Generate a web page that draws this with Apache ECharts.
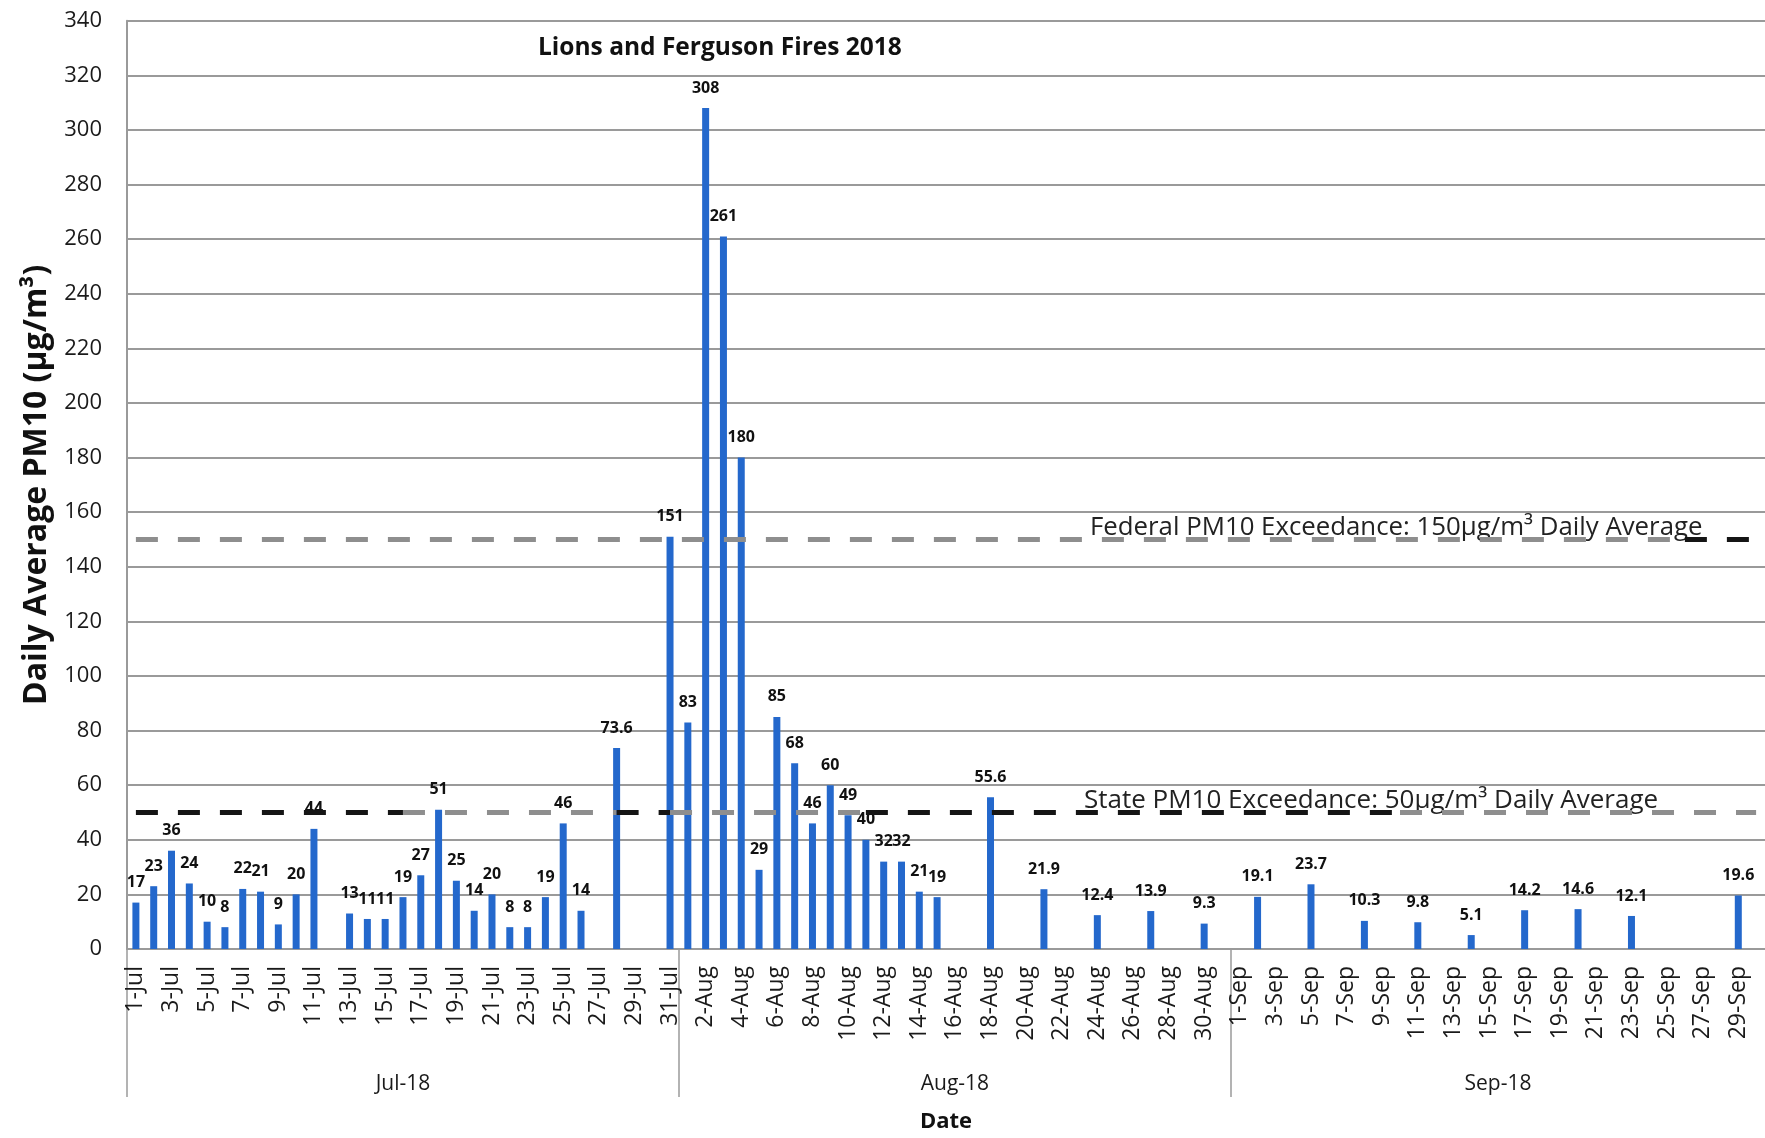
<!DOCTYPE html>
<html>
<head>
<meta charset="utf-8">
<title>Lions and Ferguson Fires 2018 - Daily Average PM10</title>
<script src="https://cdn.jsdelivr.net/npm/echarts@6/dist/echarts.min.js"></script>
<style>
  html, body { margin: 0; padding: 0; background: #ffffff; }
  #chart { width: 1765px; height: 1138px; }
</style>
</head>
<body>
<div id="chart"></div>
<script>
// Months covered and their day counts (2018)
const monthNames = ['Jul', 'Aug', 'Sep'];
const monthDays = [31, 31, 30];
const monthGroupLabels = ['Jul-18', 'Aug-18', 'Sep-18'];

// Daily average PM10 (µg/m³); null = no sample that day
const julPM10 = [17, 23, 36, 24, 10, 8, 22, 21, 9, 20, 44, null, 13, 11, 11, 19, 27, 51, 25, 14, 20, 8, 8, 19, 46, 14, null, 73.6, null, null, 151];
const augPM10 = [83, 308, 261, 180, 29, 85, 68, 46, 60, 49, 40, 32, 32, 21, 19, null, null, 55.6, null, null, 21.9, null, null, 12.4, null, null, 13.9, null, null, 9.3, null];
const sepPM10 = [null, 19.1, null, null, 23.7, null, null, 10.3, null, null, 9.8, null, null, 5.1, null, null, 14.2, null, null, 14.6, null, null, 12.1, null, null, null, null, null, 19.6, null];

// Exceedance thresholds
const FEDERAL_LIMIT = 150;
const STATE_LIMIT = 50;

// Y axis ticks
const yMin = 0, yMax = 340, yStep = 20;

// Colour runs of the dashed threshold lines (start day, end day, colour)
const GREY = '#8e8e8e', BLACK = '#151515';
const stateRuns = [
  ['1-Jul', '16-Jul', BLACK],
  ['16-Jul', '28-Jul', GREY],
  ['28-Jul', '31-Jul', BLACK],
  ['31-Jul', '11-Aug', GREY],
  ['11-Aug', '10-Sep', BLACK],
  ['10-Sep', '30-Sep', GREY]
];
const federalRuns = [
  ['1-Jul', '26-Sep', GREY],
  ['26-Sep', '30-Sep', BLACK]
];

// Category labels such as "1-Jul"
const categories = [];
monthNames.forEach((m, i) => {
  for (let d = 1; d <= monthDays[i]; d++) categories.push(d + '-' + m);
});
const pm10 = julPM10.concat(augPM10, sepPM10);

// Month boundaries and centres on a 0..N day scale for the group axis
const monthEdges = [0];
monthDays.forEach((n, i) => monthEdges.push(monthEdges[i] + n));
const monthCentres = monthDays.map((n, i) => monthEdges[i] + n / 2);

const FONT = '"Open Sans", Lato, sans-serif';

function runsToLines(runs, level) {
  return runs.map(r => [
    { coord: [r[0], level], lineStyle: { color: r[2] } },
    { coord: [r[1], level] }
  ]);
}

const chart = echarts.init(document.getElementById('chart'), null, { renderer: 'canvas' });

chart.setOption({
  backgroundColor: '#ffffff',
  animation: false,
  textStyle: { fontFamily: FONT },
  grid: { left: 127, top: 20.7, width: 1643, height: 935.6, containLabel: false },
  xAxis: [
    {
      type: 'category',
      data: categories,
      boundaryGap: true,
      name: 'Date',
      nameLocation: 'middle',
      nameGap: 162,
      nameTextStyle: { fontFamily: FONT, fontSize: 22, fontWeight: 'bold', color: '#111' },
      axisLine: { show: true, lineStyle: { color: '#9a9a9a', width: 2 } },
      axisTick: { show: false },
      axisLabel: {
        interval: 1,
        rotate: 90,
        margin: 17,
        fontFamily: FONT,
        fontSize: 23,
        color: '#1a1a1a'
      },
      splitLine: { show: false }
    },
    {
      // Month grouping row under the day labels
      type: 'value',
      position: 'bottom',
      min: monthEdges[0],
      max: monthEdges[monthEdges.length - 1],
      axisLine: { show: false },
      splitLine: { show: false },
      axisTick: {
        show: true,
        inside: false,
        length: 148,
        customValues: monthEdges.slice(0, monthEdges.length - 1),
        lineStyle: { color: '#9a9a9a', width: 1.5 }
      },
      axisLabel: {
        show: true,
        margin: 125,
        customValues: monthCentres,
        formatter: v => {
          const i = monthCentres.indexOf(v);
          return i >= 0 ? monthGroupLabels[i] : '';
        },
        fontFamily: FONT,
        fontSize: 21,
        color: '#1a1a1a'
      }
    }
  ],
  yAxis: {
    type: 'value',
    min: yMin,
    max: yMax,
    interval: yStep,
    name: 'Daily Average PM10 (µg/m³)',
    nameLocation: 'middle',
    nameGap: 74,
    nameTextStyle: { fontFamily: FONT, fontSize: 32, fontWeight: 'bold', color: '#111' },
    axisLine: { show: true, lineStyle: { color: '#9a9a9a', width: 2 } },
    axisTick: { show: false },
    axisLabel: { margin: 25, fontFamily: FONT, fontSize: 22, color: '#1a1a1a' },
    splitLine: { show: true, lineStyle: { color: '#9a9a9a', width: 2 } }
  },
  series: [
    {
      name: 'PM10',
      type: 'bar',
      data: pm10,
      barWidth: 7,
      itemStyle: { color: '#2468cc' },
      label: {
        show: true,
        position: 'top',
        distance: 12,
        fontFamily: FONT,
        fontSize: 16,
        fontWeight: 'bold',
        color: '#111',
        formatter: p => (p.value == null ? '' : String(p.value))
      },
      z: 2
    },
    {
      name: 'Thresholds',
      type: 'line',
      data: [],
      z: 5,
      markLine: {
        silent: true,
        symbol: ['none', 'none'],
        label: { show: false },
        lineStyle: { type: [22, 20], width: 5, color: GREY },
        emphasis: { disabled: true },
        data: runsToLines(federalRuns, FEDERAL_LIMIT).concat(runsToLines(stateRuns, STATE_LIMIT))
      }
    }
  ],
  graphic: [
    {
      type: 'text',
      left: 538,
      top: 36,
      style: {
        text: 'Lions and Ferguson Fires 2018',
        font: 'bold 24.5px ' + FONT,
        fill: '#111'
      }
    },
    {
      type: 'text',
      left: 1090,
      top: 515,
      style: {
        text: 'Federal PM10 Exceedance: 150µg/m³ Daily Average',
        font: '25.8px ' + FONT,
        fill: '#222'
      }
    },
    {
      type: 'text',
      left: 1084,
      top: 788,
      style: {
        text: 'State PM10 Exceedance: 50µg/m³ Daily Average',
        font: '26px ' + FONT,
        fill: '#222'
      }
    }
  ]
});
</script>
</body>
</html>
